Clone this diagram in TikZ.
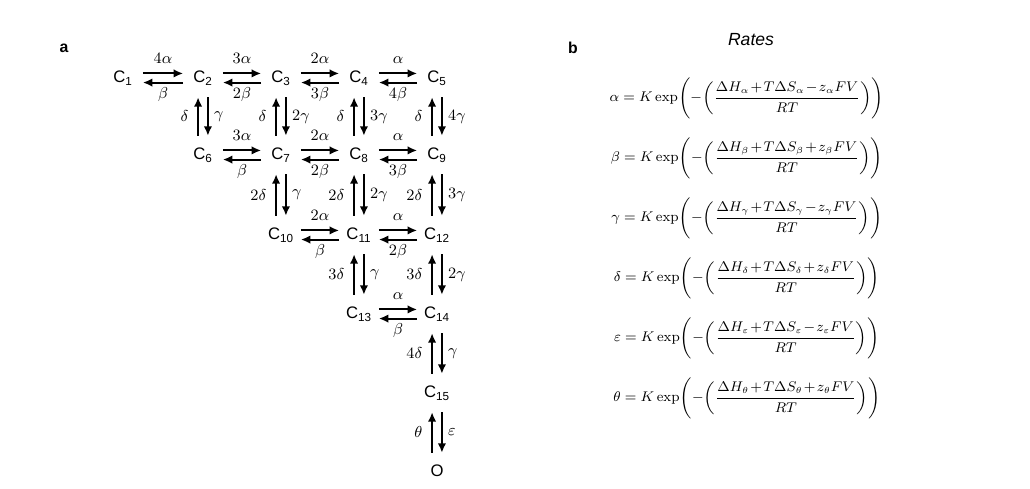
\documentclass[tikz,border=0pt]{standalone}
\usepackage{amsmath}
\usepackage[no-math]{fontspec}
\setmainfont{Liberation Sans}
\usetikzlibrary{arrows.meta}
\tikzset{
  zustand/.style={font=\fontsize{9.5}{11}\selectfont, inner xsep=1pt, inner ysep=6.5pt, minimum width=0.78cm, text height=7pt, text depth=1.5pt},
  rate/.style={font=\fontsize{9.5}{11}\selectfont, inner sep=1.5pt},
  pfeil/.style={line width=1.1pt, -{Latex[length=1.9mm,width=1.7mm]}}
}
% horizontal pair: left node, right node, forward rate, backward rate
\newcommand{\Hpair}[4]{%
  \draw[pfeil] ([yshift=2.6pt]#1.east) -- node[rate,above=3.5pt] {$#3$} ([yshift=2.6pt]#2.west);
  \draw[pfeil] ([yshift=-2.6pt]#2.west) -- node[rate,below=0.5pt] {$#4$} ([yshift=-2.6pt]#1.east);
}
% vertical pair: upper node, lower node, up rate, down rate
\newcommand{\Vpair}[4]{%
  \draw[pfeil] ([xshift=-2.8pt]#2.north) -- node[rate,left=3.5pt] {$#3$} ([xshift=-2.8pt]#1.south);
  \draw[pfeil] ([xshift=2.8pt]#1.south) -- node[rate,right=1.5pt] {$#4$} ([xshift=2.8pt]#2.north);
}
\begin{document}
\begin{tikzpicture}[x=0.02cm,y=-0.02cm]
  \useasboundingbox (0,0) rectangle (1030,489);
  \node[font=\bfseries\small] (pa) at (64,48) {a};
  \node[font=\bfseries\small] (pb) at (573,48) {b};
  % states
  \node[zustand] (C1) at (123,78) {C\textsubscript{1}};
  \node[zustand] (C2) at (203,78) {C\textsubscript{2}};
  \node[zustand] (C3) at (281,78) {C\textsubscript{3}};
  \node[zustand] (C4) at (359,78) {C\textsubscript{4}};
  \node[zustand] (C5) at (437,78) {C\textsubscript{5}};
  \node[zustand] (C6) at (203,155) {C\textsubscript{6}};
  \node[zustand] (C7) at (281,155) {C\textsubscript{7}};
  \node[zustand] (C8) at (359,155) {C\textsubscript{8}};
  \node[zustand] (C9) at (437,155) {C\textsubscript{9}};
  \node[zustand] (C10) at (281,235) {C\textsubscript{10}};
  \node[zustand] (C11) at (359,235) {C\textsubscript{11}};
  \node[zustand] (C12) at (437,235) {C\textsubscript{12}};
  \node[zustand] (C13) at (359,314) {C\textsubscript{13}};
  \node[zustand] (C14) at (437,314) {C\textsubscript{14}};
  \node[zustand] (C15) at (437,393) {C\textsubscript{15}};
  \node[zustand] (O) at (437,472) {O};
  % transitions
  \Hpair{C1}{C2}{4\alpha}{\beta}
  \Hpair{C2}{C3}{3\alpha}{2\beta}
  \Hpair{C3}{C4}{2\alpha}{3\beta}
  \Hpair{C4}{C5}{\alpha}{4\beta}
  \Hpair{C6}{C7}{3\alpha}{\beta}
  \Hpair{C7}{C8}{2\alpha}{2\beta}
  \Hpair{C8}{C9}{\alpha}{3\beta}
  \Hpair{C10}{C11}{2\alpha}{\beta}
  \Hpair{C11}{C12}{\alpha}{2\beta}
  \Hpair{C13}{C14}{\alpha}{\beta}
  \Vpair{C2}{C6}{\delta}{\gamma}
  \Vpair{C3}{C7}{\delta}{2\gamma}
  \Vpair{C4}{C8}{\delta}{3\gamma}
  \Vpair{C5}{C9}{\delta}{4\gamma}
  \Vpair{C7}{C10}{2\delta}{\gamma}
  \Vpair{C8}{C11}{2\delta}{2\gamma}
  \Vpair{C9}{C12}{2\delta}{3\gamma}
  \Vpair{C11}{C13}{3\delta}{\gamma}
  \Vpair{C12}{C14}{3\delta}{2\gamma}
  \Vpair{C14}{C15}{4\delta}{\gamma}
  \Vpair{C15}{O}{\theta}{\varepsilon}
  % rates
  \node[font=\itshape] (rates) at (751,40) {Rates};
  \foreach \r/\s [count=\i from 0] in {\alpha/-,\beta/+,\gamma/-,\delta/+,\varepsilon/-,\theta/+}
    \node[font=\fontsize{7.8}{10}\selectfont] (eq\i) at (747,98+60*\i)
      {$\medmuskip=1.5mu \r = K\exp\Biggl(-\biggl(\dfrac{\Delta H_{\r} + T\Delta S_{\r} \s z_{\r}FV}{RT}\biggr)\Biggr)$};
\end{tikzpicture}
\end{document}
